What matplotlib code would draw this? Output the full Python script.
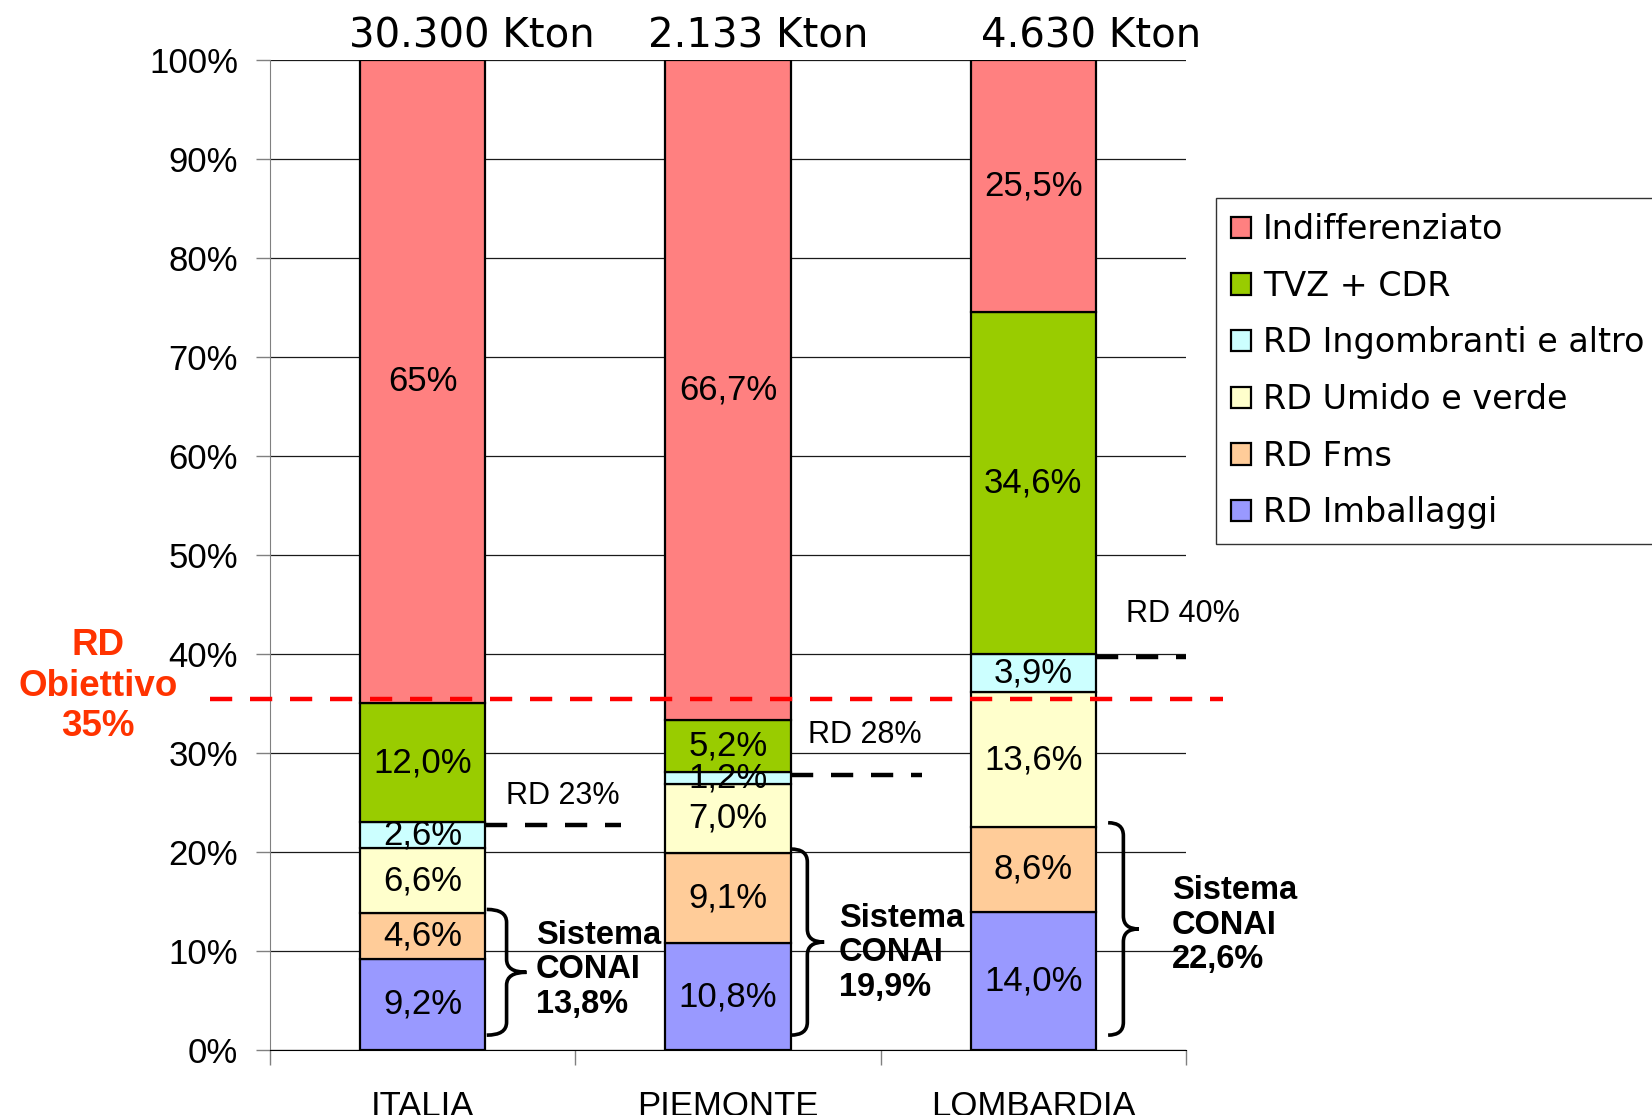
import matplotlib
matplotlib.use("Agg")
import matplotlib.pyplot as plt
from matplotlib.patches import Patch, PathPatch
from matplotlib.path import Path
from matplotlib.ticker import FuncFormatter

# --- data (percent shares per area, bottom to top) ---
regions = ["ITALIA", "PIEMONTE", "LOMBARDIA"]
totals = ["30.300 Kton", "2.133 Kton", "4.630 Kton"]

rd_imballaggi = [9.2, 10.8, 14.0]
rd_fms = [4.6, 9.1, 8.6]
rd_umido = [6.6, 7.0, 13.6]
rd_ingombranti = [2.6, 1.2, 3.9]
tvz_cdr = [12.0, 5.2, 34.6]
indifferenziato = [65.0, 66.7, 25.5]

series_names = ["RD Imballaggi", "RD Fms", "RD Umido e verde",
                "RD Ingombranti e altro", "TVZ + CDR", "Indifferenziato"]
series_colors = ["#9999FF", "#FFCC99", "#FFFFCC", "#CCFFFF", "#99CC00", "#FF8080"]

rd_target = 35          # objective label
target_line_y = 35.5    # where the red dashed line sits in the picture

SANS = ["Liberation Sans", "DejaVu Sans"]
WIDE = ["DejaVu Sans"]

series = [rd_imballaggi, rd_fms, rd_umido, rd_ingombranti, tvz_cdr, indifferenziato]
fmts = ["{:.1f}"] * 5 + ["{:g}"]
col_sums = [sum(s[i] for s in series) for i in range(len(regions))]

fig = plt.figure(figsize=(16.52, 11.15), dpi=100)
ax = fig.add_axes([0.1634, 0.0583, 0.5545, 0.8879])

bar_w = 0.41
x = list(range(len(regions)))
bottoms = [0.0] * len(regions)
for vals, name, color, fmt in zip(series, series_names, series_colors, fmts):
    heights = [v / cs * 100 for v, cs in zip(vals, col_sums)]
    ax.bar(x, heights, bar_w, bottom=bottoms, color=color,
           edgecolor="black", linewidth=1.6, label=name, zorder=3)
    for i, (v, h) in enumerate(zip(vals, heights)):
        ax.text(i, bottoms[i] + h / 2, fmt.format(v).replace(".", ",") + "%",
                ha="center", va="center", fontsize=25, family=SANS, zorder=4)
    bottoms = [b + h for b, h in zip(bottoms, heights)]

# axes look
ax.set_xlim(-0.5, 2.5)
ax.set_ylim(0, 100)
ax.set_yticks(range(0, 101, 10))
ax.yaxis.set_major_formatter(FuncFormatter(lambda v, p: f"{v:.0f}%"))
ax.yaxis.grid(True, color="#1a1a1a", linewidth=0.9)
ax.set_axisbelow(True)
for s in ("top", "right"):
    ax.spines[s].set_visible(False)
ax.spines["left"].set_color("#808080")
ax.spines["bottom"].set_color("black")
ax.tick_params(axis="y", direction="out", length=10, width=1, color="#808080",
               pad=13, labelsize=25)
ax.set_xticks(x)
ax.set_xticklabels(regions)
ax.tick_params(axis="x", length=0, pad=29, labelsize=25)
ax.set_xticks([-0.5, 0.5, 1.5, 2.5], minor=True)
ax.tick_params(axis="x", which="minor", direction="out", length=11, width=1, color="#808080")
for lab in ax.get_xticklabels() + ax.get_yticklabels():
    lab.set_family(SANS)

# totals above the bars
title_dx = [0.16, 0.10, 0.19]
for i, t in enumerate(totals):
    ax.text(i + title_dx[i], 101.3, t, ha="center", va="baseline",
            fontsize=29, family=WIDE, clip_on=False)

# objective line and label
ax.plot([-0.0655, 1.04], [target_line_y, target_line_y], transform=ax.get_yaxis_transform(),
        color="#FF0000", linestyle=(0, (5, 4)), linewidth=3.2, clip_on=False, zorder=5)
fig.text(98 / 1652, 1 - 686 / 1115, f"RD\nObiettivo\n{rd_target}%", ha="center", va="center",
         color="#FF3300", fontsize=26.5, fontweight="bold", family=SANS, linespacing=1.2)

# RD level dashed lines
rd_cum = [(a + b + c + d) / cs * 100 for a, b, c, d, cs in
          zip(rd_imballaggi, rd_fms, rd_umido, rd_ingombranti, col_sums)]
rd_line_end = [0.65, 1.635, 2.5]
rd_text_pos = [(0.273, 25.7), (1.262, 31.8), (2.303, 44.0)]
for i, lvl in enumerate(rd_cum):
    ax.plot([i + bar_w / 2, rd_line_end[i]], [lvl - 0.3, lvl - 0.3], color="black",
            linestyle=(0, (5, 4)), linewidth=3.2, clip_on=False, zorder=5)
    tx, ty = rd_text_pos[i]
    ax.text(tx, ty, f"RD {lvl:.0f}%", ha="left", va="center", fontsize=22,
            family=SANS, clip_on=False)


def draw_brace(ax, x0, y_bot, y_top, width, r=1.3):
    xm = x0 + width / 2
    xt = x0 + width
    ym = (y_bot + y_top) / 2
    verts = [(x0, y_top), (xm, y_top), (xm, y_top - r), (xm, ym + r),
             (xm, ym), (xt, ym), (xm, ym), (xm, ym - r),
             (xm, y_bot + r), (xm, y_bot), (x0, y_bot)]
    codes = [Path.MOVETO, Path.CURVE3, Path.CURVE3, Path.LINETO,
             Path.CURVE3, Path.CURVE3, Path.CURVE3, Path.CURVE3,
             Path.LINETO, Path.CURVE3, Path.CURVE3]
    ax.add_patch(PathPatch(Path(verts, codes), facecolor="none", edgecolor="black",
                           linewidth=2.6, clip_on=False, zorder=5))


# Sistema CONAI braces
brace_gap = [0.005, 0.0, 0.04]
brace_w = [0.13, 0.11, 0.10]
conai_text = [(0.371, 8.1), (1.363, 9.8), (2.454, 12.6)]
for i in x:
    conai = rd_imballaggi[i] + rd_fms[i]
    top = conai / col_sums[i] * 100 + 0.4
    draw_brace(ax, i + bar_w / 2 + brace_gap[i], 1.5, top, brace_w[i])
    tx, ty = conai_text[i]
    ax.text(tx, ty, f"Sistema\nCONAI\n{conai:.1f}%".replace(".", ","), ha="left", va="center",
            fontsize=23.5, fontweight="bold", family=SANS, linespacing=1.15, clip_on=False)

# legend (top series first)
handles = [Patch(facecolor=c, edgecolor="black", linewidth=1.6)
           for c in reversed(series_colors)]
leg = fig.legend(handles, list(reversed(series_names)), loc="upper left",
                 bbox_to_anchor=(1216 / 1652, 1 - 198 / 1115), frameon=True, fancybox=False,
                 edgecolor="black", prop={"family": WIDE, "size": 24}, handlelength=0.6,
                 handleheight=0.6, handletextpad=0.36, labelspacing=0.71, borderpad=0.45,
                 borderaxespad=0)
leg.get_frame().set_linewidth(1.0)

fig.savefig("out.png", dpi=100)
